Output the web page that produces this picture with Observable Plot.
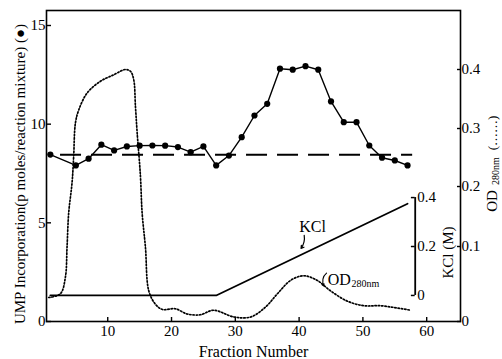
<!DOCTYPE html>
<html><head><meta charset="utf-8">
<script src="https://cdn.jsdelivr.net/npm/d3@7"></script>
<script src="https://cdn.jsdelivr.net/npm/@observablehq/plot@0.6"></script>
<style>
body{margin:0;background:#fff}
#chart svg{font-family:"Liberation Serif",serif}
</style>
</head><body><div id="chart"></div>
<script>
// UMP incorporation (p moles / reaction mixture), solid line with dots
const umpFraction = [1,5,7,9,11,13,15,17,19,21,23,25,27,29,31,33,35,37,39,41,43,45,47,49,51,53,55,57];
const umpValues = [8.46,7.91,8.25,8.96,8.67,8.87,8.91,8.92,8.91,8.84,8.58,8.87,7.91,8.41,9.34,10.44,11.03,12.81,12.76,12.94,12.76,11.15,10.1,10.1,8.92,8.3,8.16,7.91];
// Control level (dashed line)
const controlFraction = [2.6,57.8];
const controlValue = 8.45;
// OD 280nm (dotted line)
const odFraction = [0.74,2.57,3.36,3.62,3.88,4.41,4.66,4.93,5.44,6.76,8.85,10.94,12.77,13.56,14.07,14.34,14.61,15.12,15.39,15.91,16.43,17.48,18.58,20.6,22.45,24.5,26.6,29.8,32.4,34.7,36.6,38.7,40.7,42.8,44.9,47.6,50.2,52.8,57.5];
const odValues = [0.032,0.037,0.059,0.099,0.156,0.207,0.252,0.309,0.331,0.360,0.380,0.391,0.400,0.397,0.383,0.338,0.293,0.219,0.156,0.099,0.041,0.023,0.016,0.017,0.010,0.009,0.015,0.006,0.006,0.019,0.037,0.055,0.061,0.055,0.041,0.027,0.021,0.021,0.015];
// KCl gradient (M)
const kclFraction = [1,27,57];
const kclValues = [0,0,0.375];
// Tick labels
const fractionTicks = [10,20,30,40,50,60];
const umpTicks = [0,5,10,15];
const odTicks = [0,0.1,0.2,0.3,0.4];
const kclTicks = [0,0.2,0.4];

// secondary scales drawn into the UMP coordinate system
const odY = d3.scaleLinear().domain(odTicks).range([0,3.80,6.84,9.78,12.77]);
const kclY = d3.scaleLinear().domain([0,0.4]).range([1.32,6.28]);
const kclAxisX = 58.2;

const ump = umpFraction.map((f,i)=>({f, v: umpValues[i]}));
const od = odFraction.map((f,i)=>({f, y: odY(odValues[i])}));
const kcl = kclFraction.map((f,i)=>({f, y: kclY(kclValues[i])}));
const fmt = v => String(Math.round(v*10)/10);

const chart = Plot.plot({
  width: 502, height: 359,
  marginLeft: 46, marginRight: 42, marginTop: 10, marginBottom: 38,
  x: {domain: [0.4, 65.3]},
  y: {domain: [0, 15.76]},
  style: {fontFamily: "Liberation Serif, serif", fontSize: "15px", color: "#000", background: "#fff"},
  marks: [
    Plot.frame({stroke: "#000", strokeWidth: 1.6}),
    Plot.axisX(fractionTicks, {tickSize: -4, tickPadding: 8, label: null, strokeWidth: 1.4, fontSize: 15}),
    Plot.axisY(umpTicks, {anchor: "left", tickSize: -5, tickPadding: 6, label: null, strokeWidth: 1.4, fontSize: 15}),
    Plot.axisY(odTicks.map(odY), {anchor: "right", tickSize: -4, tickPadding: 5, label: null, strokeWidth: 1.4, fontSize: 15,
      tickFormat: d => fmt(odY.invert(d))}),
    // control dashed line
    Plot.ruleY([controlValue], {x1: controlFraction[0], x2: controlFraction[1], stroke: "#000", strokeWidth: 1.8, strokeDasharray: "21,10"}),
    // OD dotted curve
    Plot.line(od, {x: "f", y: "y", stroke: "#000", strokeWidth: 1.7, strokeDasharray: "1.4,1.9", curve: "catmull-rom"}),
    // KCl gradient
    Plot.line(kcl, {x: "f", y: "y", stroke: "#000", strokeWidth: 1.8}),
    // KCl inset axis
    Plot.ruleX([kclAxisX], {y1: kclY(0), y2: kclY(0.4), stroke: "#000", strokeWidth: 1.8}),
    Plot.ruleY(kclTicks, {y: d => kclY(d), x1: kclAxisX - 0.6, x2: kclAxisX, stroke: "#000", strokeWidth: 1.5}),
    Plot.text(kclTicks, {x: () => kclAxisX, y: d => kclY(d), text: d => fmt(d), textAnchor: "start", dx: 2, fontSize: 15}),
    Plot.text(["KCl (M)"], {x: () => 63.3, y: () => 3.5, rotate: -90, fontSize: 15}),
    // UMP line and dots
    Plot.line(ump, {x: "f", y: "v", stroke: "#000", strokeWidth: 1.4}),
    Plot.dot(ump, {x: "f", y: "v", r: 3.1, fill: "#000", stroke: "none"}),
    // annotations
    Plot.text(["KCl"], {x: () => 42.1, y: () => 4.8, fontSize: 16}),
    Plot.arrow([0], {x1: 40.8, y1: 4.36, x2: 40.3, y2: 3.7, bend: true, headLength: 4, stroke: "#000", strokeWidth: 1.2}),
    Plot.text(["OD"], {x: () => 44.5, y: () => 2.13, textAnchor: "start", fontSize: 16}),
    Plot.text(["280nm"], {x: () => 48.2, y: () => 1.9, textAnchor: "start", fontSize: 10}),
    Plot.arrow([0], {x1: 44.3, y1: 2.45, x2: 43.9, y2: 1.8, bend: -40, headLength: 3, stroke: "#000", strokeWidth: 1.1}),
    // axis titles
    Plot.text(["UMP Incorporation(p moles/reaction mixture) (●)"], {frameAnchor: "left", textAnchor: "middle", lineAnchor: "middle", dx: -26, dy: 8, rotate: -90, fontSize: 15}),
    Plot.text(["OD"], {frameAnchor: "right", textAnchor: "middle", lineAnchor: "middle", dx: 32, dy: 35, rotate: -90, fontSize: 15}),
    Plot.text(["280nm"], {frameAnchor: "right", textAnchor: "middle", lineAnchor: "middle", dx: 35, dy: 5, rotate: -90, fontSize: 10}),
    Plot.text(["(……)"], {frameAnchor: "right", textAnchor: "middle", lineAnchor: "middle", dx: 32, dy: -33, rotate: -90, fontSize: 13}),
    Plot.text(["Fraction Number"], {frameAnchor: "bottom", textAnchor: "middle", lineAnchor: "middle", dy: 30, fontSize: 16})
  ]
});
document.getElementById("chart").appendChild(chart);
</script>
</body></html>
